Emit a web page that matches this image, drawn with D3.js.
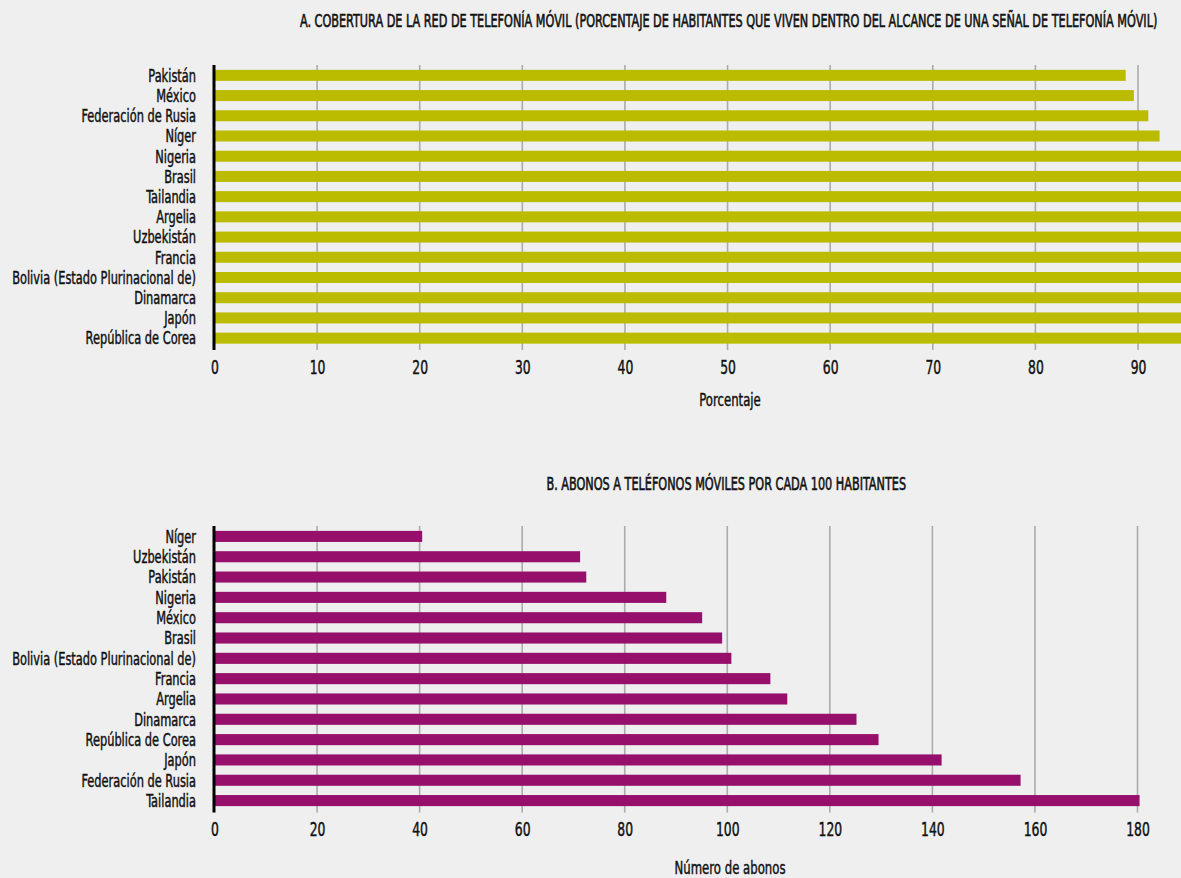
<!DOCTYPE html>
<html lang="es">
<head>
<meta charset="utf-8">
<script src="https://cdn.jsdelivr.net/npm/d3@7"></script>
<style>
  html, body { margin: 0; padding: 0; background: #efefef; }
  svg { display: block; }
</style>
</head>
<body>
<svg id="chart" width="1181" height="878"></svg>
<script>
// Panel A: mobile network coverage (% of population)
const coverageCountries = ["Pakistán", "México", "Federación de Rusia", "Níger", "Nigeria", "Brasil", "Tailandia",
  "Argelia", "Uzbekistán", "Francia", "Bolivia (Estado Plurinacional de)", "Dinamarca", "Japón", "República de Corea"];
const coverageValues = [88.8, 89.6, 91.0, 92.1, 99.0, 99.5, 99.7, 99.8, 99.9, 99.9, 100, 100, 100, 100];
const coverageTicks = [0, 10, 20, 30, 40, 50, 60, 70, 80, 90];

// Panel B: mobile subscriptions per 100 inhabitants
const subsCountries = ["Níger", "Uzbekistán", "Pakistán", "Nigeria", "México", "Brasil", "Bolivia (Estado Plurinacional de)",
  "Francia", "Argelia", "Dinamarca", "República de Corea", "Japón", "Federación de Rusia", "Tailandia"];
const subsValues = [40.5, 71.3, 72.5, 88.1, 95.1, 99.0, 100.8, 108.4, 111.7, 125.2, 129.5, 141.8, 157.2, 180.4];
const subsTicks = [0, 20, 40, 60, 80, 100, 120, 140, 160, 180];

const titleA = "A. COBERTURA DE LA RED DE TELEFONÍA MÓVIL (PORCENTAJE DE HABITANTES QUE VIVEN DENTRO DEL ALCANCE DE UNA SEÑAL DE TELEFONÍA MÓVIL)";
const titleB = "B. ABONOS A TELÉFONOS MÓVILES POR CADA 100 HABITANTES";
const axisTitleA = "Porcentaje";
const axisTitleB = "Número de abonos";

const FONT = "'Liberation Sans Narrow', 'DejaVu Sans Condensed', 'Liberation Sans', sans-serif";
const INK = "#111";
const W = 1181;
const svg = d3.select("#chart");

// measure a string's natural width so the condensed face can be emulated with a horizontal squeeze
function textWidth(str, size) {
  const t = svg.append("text").attr("font-family", FONT).attr("font-size", size).text(str);
  const w = t.node().getComputedTextLength();
  t.remove();
  return w;
}
const LABEL_SIZE = 17.5, TICK_SIZE = 19, TITLE_SIZE = 18;
const kLabel = 184 / textWidth("Bolivia (Estado Plurinacional de)", LABEL_SIZE);
const kTitle = 858 / textWidth(titleA, TITLE_SIZE);
const kTick = kLabel;

// medium-weight look: regular face with a hairline outline in the same ink
function ink(sel, w) {
  sel.attr("fill", INK).attr("stroke", INK).attr("stroke-width", w).attr("paint-order", "stroke");
}

function squeezedText(g, str, x, y, size, k, anchor, strokeW) {
  g.append("g").attr("transform", `translate(${x},${y}) scale(${k},1)`)
    .append("text")
    .attr("font-family", FONT).attr("font-size", size)
    .attr("text-anchor", anchor).text(str)
    .call(ink, strokeW);
}

function panel(cfg) {
  const g = svg.append("g");
  const x = d3.scaleLinear().domain([0, cfg.max]).range([214.5, cfg.xMaxPx]);
  const y = d3.scaleBand().domain(cfg.countries).range([cfg.top, cfg.bottom])
    .paddingInner(0.455).paddingOuter(0.24);

  const clipId = "clip-" + cfg.id;
  svg.append("clipPath").attr("id", clipId).append("rect")
    .attr("x", 214.5).attr("y", cfg.top - 5).attr("width", W - 214.5).attr("height", cfg.bottom - cfg.top + 10);

  // vertical gridlines
  g.append("g").selectAll("line").data(cfg.ticks.filter(d => d > 0)).join("line")
    .attr("x1", d => x(d)).attr("x2", d => x(d))
    .attr("y1", cfg.top).attr("y2", cfg.bottom + 1.5)
    .attr("stroke", "#ababab").attr("stroke-width", 1.6);

  // bars
  g.append("g").attr("clip-path", `url(#${clipId})`).selectAll("rect")
    .data(cfg.countries.map((c, i) => ({ c, v: cfg.values[i] }))).join("rect")
    .attr("x", x(0)).attr("y", d => y(d.c))
    .attr("width", d => x(d.v) - x(0)).attr("height", y.bandwidth())
    .attr("fill", cfg.color);

  // category axis line
  g.append("line").attr("x1", 214).attr("x2", 214)
    .attr("y1", cfg.top).attr("y2", cfg.bottom + 1.5)
    .attr("stroke", "#000").attr("stroke-width", 3);

  // category labels
  const yAxis = d3.axisLeft(y).tickSize(0).tickPadding(0);
  const ya = g.append("g").attr("transform", "translate(196,0)").call(yAxis);
  ya.select(".domain").remove();
  ya.selectAll("text")
    .attr("font-family", FONT).attr("font-size", LABEL_SIZE)
    .attr("x", 0).attr("dy", "0.36em")
    .attr("transform", `scale(${kLabel},1)`)
    .call(ink, 0.45);

  // value axis labels
  const xAxis = d3.axisBottom(x).tickValues(cfg.ticks).tickSize(0).tickPadding(12).tickFormat(d3.format("d"));
  const xa = g.append("g").attr("transform", `translate(0,${cfg.bottom})`).call(xAxis);
  xa.select(".domain").remove();
  xa.selectAll("text")
    .attr("font-family", FONT).attr("font-size", TICK_SIZE)
    .attr("transform", `scale(${kTick},1)`)
    .call(ink, 0.45);

  // panel title and axis title
  squeezedText(g, cfg.title, cfg.titleX, cfg.titleY, TITLE_SIZE, kTitle, "start", 0.6);
  squeezedText(g, cfg.axisTitle, 730, cfg.axisTitleY, TITLE_SIZE, kLabel, "middle", 0.45);
}

panel({
  id: "a", countries: coverageCountries, values: coverageValues, ticks: coverageTicks,
  max: 90 * (W - 214.5) / (1138 - 214.5), xMaxPx: W, top: 65, bottom: 348.5,
  color: "#bbbb00", title: titleA, titleX: 300, titleY: 26.7, axisTitle: axisTitleA, axisTitleY: 406
});

panel({
  id: "b", countries: subsCountries, values: subsValues, ticks: subsTicks,
  max: 180, xMaxPx: 1137.5, top: 526, bottom: 811,
  color: "#96106b", title: titleB, titleX: 546.5, titleY: 490, axisTitle: axisTitleB, axisTitleY: 874
});
</script>
</body>
</html>
